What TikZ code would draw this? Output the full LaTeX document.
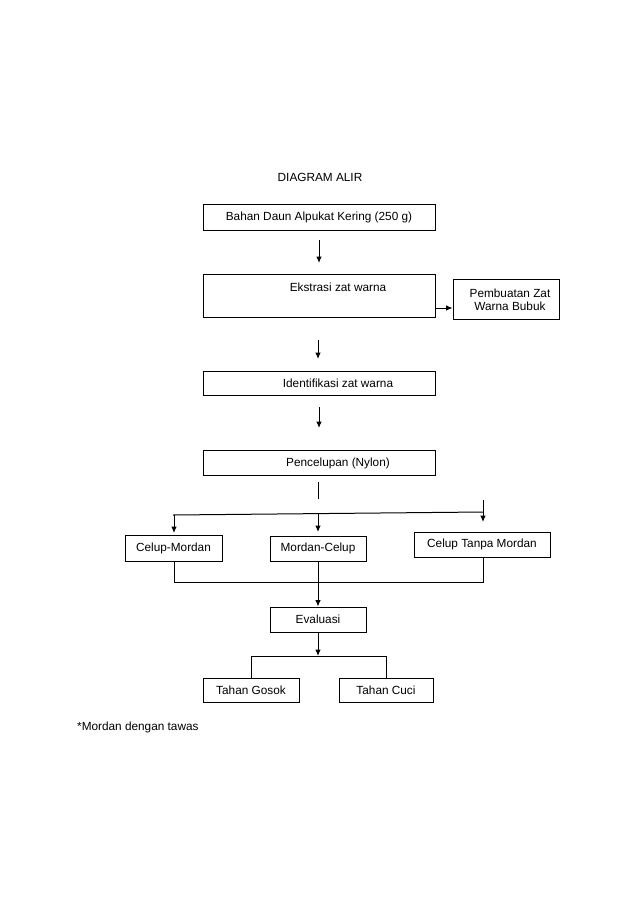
\documentclass[tikz,border=0pt]{standalone}
\usepackage{fontspec}
\setmainfont{Liberation Sans}
\usetikzlibrary{arrows.meta,calc}
\begin{document}
\begin{tikzpicture}[x=1pt,y=-1pt,
  box/.style={draw, line width=0.9pt, inner sep=0pt, font=\fontsize{11.8}{13}\selectfont},
  txt/.style={inner sep=0pt, font=\fontsize{11.8}{13}\selectfont},
  ln/.style={line width=1pt},
  arr/.style={line width=1pt, -{Latex[length=6.5pt,width=5.5pt]}}]
\useasboundingbox[fill=white] (0,0) rectangle (638,903);

\node[txt] (title) at (320,177) {DIAGRAM ALIR};

\node[box, minimum width=232pt, minimum height=26pt] (b1) at (319,217) {Bahan Daun Alpukat Kering (250 g)};
\node[box, minimum width=232pt, minimum height=43pt] (b2) at (319,295.5) {};
\node[txt] (t2) at (338,287) {Ekstrasi zat warna};
\node[box, minimum width=106pt, minimum height=40pt] (b3) at (506,299) {};
\node[txt, align=center] (t3) at (510,300) {Pembuatan Zat\\Warna Bubuk};
\node[box, minimum width=232pt, minimum height=24pt] (b4) at (319,383) {};
\node[txt] (t4) at (338,383) {Identifikasi zat warna};
\node[box, minimum width=232pt, minimum height=25pt] (b5) at (319,462.5) {};
\node[txt] (t5) at (338,463) {Pencelupan (Nylon)};

\node[box, minimum width=97pt, minimum height=26pt] (b6) at (173.5,548) {Celup-Mordan};
\node[box, minimum width=96pt, minimum height=25pt] (b7) at (318,548.5) {Mordan-Celup};
\node[box, minimum width=136pt, minimum height=25pt] (b8) at (482,544.5) {Celup Tanpa Mordan};
\node[box, minimum width=96pt, minimum height=25pt] (b9) at (318,619.5) {Evaluasi};
\node[box, minimum width=96pt, minimum height=24pt] (b10) at (251,690) {Tahan Gosok};
\node[box, minimum width=94pt, minimum height=24pt] (b11) at (386,690) {Tahan Cuci};

\node[txt, anchor=west] (note) at (77,727) {*Mordan dengan tawas};

% free arrows between main boxes
\coordinate (a1s) at (319,240); \coordinate (a1e) at (319,263);
\draw[arr] (a1s) -- (a1e);
\coordinate (e1) at (435,308);
\draw[arr] (e1) -- (e1 -| b3.west);
\coordinate (a2s) at (318,340); \coordinate (a2e) at (318,359);
\draw[arr] (a2s) -- (a2e);
\coordinate (a3s) at (319,407); \coordinate (a3e) at (319,428);
\draw[arr] (a3s) -- (a3e);

% branching
\coordinate (p1) at (318,482); \coordinate (p2) at (318,499);
\draw[ln] (p1) -- (p2);
\coordinate (hl) at (173,515); \coordinate (hr) at (483,512);
\draw[ln] (hl) -- (hr);
\coordinate (r1) at (483,500); \coordinate (r2) at (483,522);
\draw[arr] (r1) -- (r2);
\coordinate (l1) at (174,515); \coordinate (l2) at (174,533);
\draw[arr] (l1) -- (l2);
\coordinate (m1) at (318,513.5); \coordinate (m2) at (318,532);
\draw[arr] (m1) -- (m2);

% merging
\coordinate (jl) at (174,582); \coordinate (jr) at (483,582);
\draw[ln] (b6.south -| jl) -- (jl) -- (jr) -- (b8.south -| jr);
\draw[arr] (b7.south) -- (b9.north);

% split to tests
\coordinate (s1) at (318,656);
\draw[arr] (b9.south) -- (s1);
\draw[ln] (b10.north) -- (b10.north |- s1) -- (b11.north |- s1) -- (b11.north);
\end{tikzpicture}
\end{document}
